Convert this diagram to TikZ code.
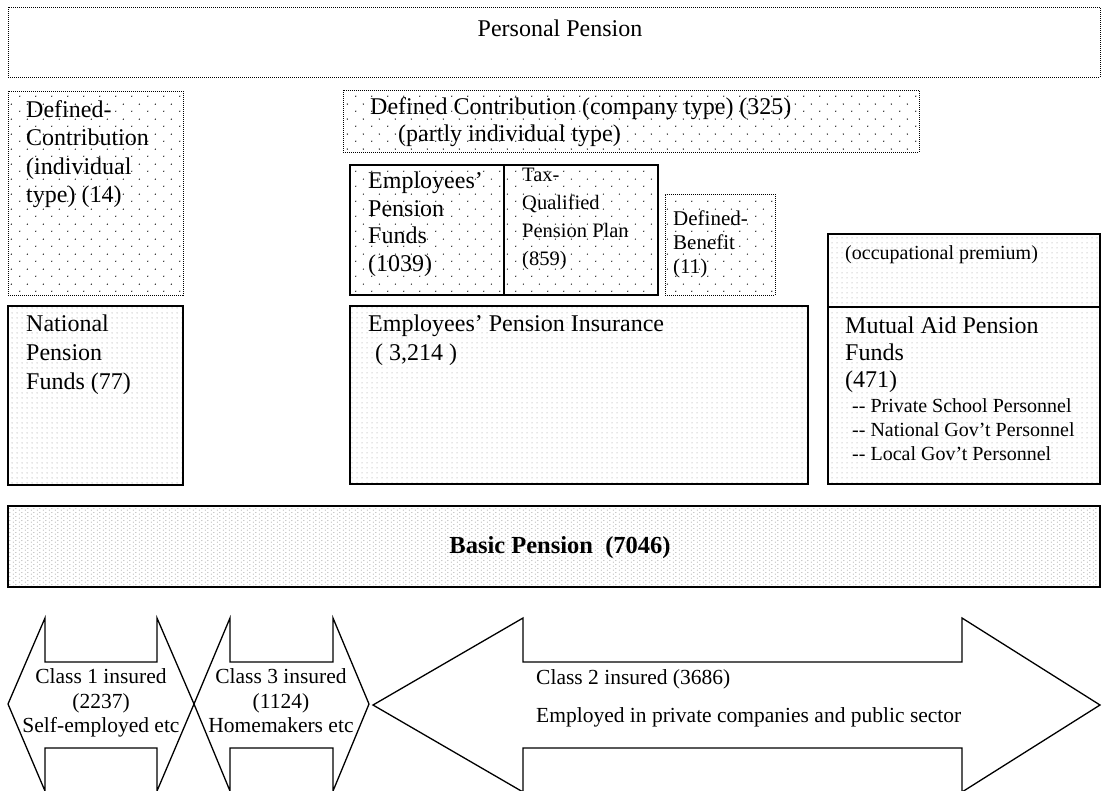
\documentclass[tikz,border=0pt]{standalone}
\usepackage{fontspec}
\setmainfont{Liberation Serif}
\usetikzlibrary{patterns}
\pgfdeclarepatternformonly{sparsedots}{\pgfpointorigin}{\pgfqpoint{16pt}{15pt}}{\pgfqpoint{16pt}{15pt}}{%
  \pgfpathcircle{\pgfqpoint{4pt}{4pt}}{0.75pt}%
  \pgfpathcircle{\pgfqpoint{12pt}{11.5pt}}{0.75pt}%
  \pgfusepath{fill}}
\pgfdeclarepatternformonly{finedots}{\pgfpointorigin}{\pgfqpoint{5pt}{5pt}}{\pgfqpoint{5pt}{5pt}}{%
  \pgfpathcircle{\pgfqpoint{2.5pt}{2.5pt}}{0.6pt}%
  \pgfusepath{fill}}
\pgfdeclarepatternformonly{densedots}{\pgfpointorigin}{\pgfqpoint{6pt}{4pt}}{\pgfqpoint{6pt}{4pt}}{%
  \pgfpathcircle{\pgfqpoint{1.5pt}{1pt}}{0.6pt}%
  \pgfpathcircle{\pgfqpoint{4.5pt}{3pt}}{0.6pt}%
  \pgfusepath{fill}}
\tikzset{
  pbox/.style={anchor=north west, inner sep=0pt, outer sep=0pt},
  dotborder/.style={draw, dash pattern=on 1pt off 1pt, line width=0.9pt},
  solidb/.style={draw, line width=1.6pt},
  thickb/.style={draw, line width=2pt},
  spdots/.style={pattern=sparsedots, pattern color=black},
  fdots/.style={pattern=finedots, pattern color=gray!85},
  ddots/.style={pattern=densedots, pattern color=gray!85},
  txt/.style={anchor=north west, inner sep=0pt, align=left, font=\fontsize{24}{28.5}\selectfont},
  smalltxt/.style={anchor=north west, inner sep=0pt, align=left, font=\fontsize{20}{24}\selectfont},
  classtxt/.style={anchor=north, inner sep=0pt, align=center, font=\fontsize{21.5}{24.5}\selectfont},
  arrowline/.style={draw, line width=1.3pt, line join=miter, fill=white},
}
\begin{document}
\begin{tikzpicture}[x=1pt, y=-1pt]
\useasboundingbox (0,0) rectangle (1102,790);

% Personal pension
\node[pbox, dotborder, minimum width=1092pt, minimum height=70pt] (pp) at (8,7) {};
\node[anchor=base, inner sep=0pt, font=\fontsize{24}{28}\selectfont] (ppt) at (560,36) {Personal Pension};

% Defined contribution (individual)
\node[pbox, dotborder, spdots, minimum width=175pt, minimum height=204pt] (dci) at (8,91) {};
\node[txt] (dcit) at (26,100) {Defined-\\Contribution\\(individual\\type) (14)};

% Defined contribution (company)
\node[pbox, dotborder, spdots, minimum width=576pt, minimum height=62pt] (dcc) at (343,90) {};
\node[txt, font=\fontsize{24}{27}\selectfont] (dcct) at (370,97) {Defined Contribution (company type) (325)\\\hspace*{28pt}(partly individual type)};

% Employees' pension funds
\node[pbox, thickb, spdots, minimum width=154pt, minimum height=130pt] (epf) at (350,165) {};
\node[txt, font=\fontsize{24}{27.5}\selectfont] (epft) at (368,172) {Employees’\\Pension\\Funds\\(1039)};

% Tax-qualified
\node[pbox, thickb, spdots, minimum width=154pt, minimum height=130pt] (tax) at (504,165) {};
\node[smalltxt, font=\fontsize{20.5}{28}\selectfont] (taxt) at (522,168) {Tax-\\Qualified\\Pension Plan\\(859)};

% Defined benefit
\node[pbox, dotborder, spdots, minimum width=110pt, minimum height=101pt] (db) at (665,194) {};
\node[smalltxt, font=\fontsize{21}{24}\selectfont] (dbt) at (673,211) {Defined-\\Benefit\\(11)};

% Occupational premium
\node[pbox, solidb, fdots, minimum width=272pt, minimum height=73pt] (occ) at (828,234) {};
\node[smalltxt] (occt) at (845,245) {(occupational premium)};

% Mutual aid
\node[pbox, solidb, fdots, minimum width=272pt, minimum height=177pt] (mut) at (828,307) {};
\node[txt, font=\fontsize{24}{27}\selectfont] (mutt) at (845,316.5) {Mutual Aid Pension\\Funds\\(471)};
\node[smalltxt] (mutsub) at (852,398) {-{}- Private School Personnel\\-{}- National Gov’t Personnel\\-{}- Local Gov’t Personnel};

% National pension funds
\node[pbox, solidb, fdots, minimum width=175pt, minimum height=179pt] (nat) at (8,306) {};
\node[txt, font=\fontsize{24}{29}\selectfont] (natt) at (26,314.5) {National\\Pension\\Funds (77)};

% Employees' pension insurance
\node[pbox, solidb, fdots, minimum width=458pt, minimum height=178pt] (epi) at (350,306) {};
\node[txt, font=\fontsize{24}{29.5}\selectfont] (epit) at (368,314.5) {Employees’ Pension Insurance\\\hspace*{7pt}( 3,214 )};

% Basic pension
\node[pbox, solidb, ddots, minimum width=1092pt, minimum height=81pt] (basic) at (8,506) {};
\node[anchor=base, inner sep=0pt, font=\fontsize{24.5}{28}\selectfont\bfseries] (basict) at (560,553) {Basic Pension\ \ (7046)};

% Class arrows
\draw[arrowline] (8,704) -- (45,618) -- (45,662) -- (157,662) -- (157,618) -- (194,704)
  -- (157,791) -- (157,748) -- (45,748) -- (45,791) -- cycle;
\draw[arrowline] (194,704) -- (230,618) -- (230,662) -- (333,662) -- (333,618) -- (369,704)
  -- (333,791) -- (333,748) -- (230,748) -- (230,791) -- cycle;
\draw[arrowline] (373,705) -- (523,618) -- (523,662) -- (962,662) -- (962,618) -- (1100,705)
  -- (962,792) -- (962,748) -- (523,748) -- (523,792) -- cycle;

\node[classtxt] (c1) at (101,668.5) {Class 1 insured\\(2237)\\Self-employed etc};
\node[classtxt] (c3) at (281,668.5) {Class 3 insured\\(1124)\\Homemakers etc};
\node[anchor=north west, inner sep=0pt, align=left, font=\fontsize{21.5}{38}\selectfont] (c2) at (536,669.5)
  {Class 2 insured (3686)\\Employed in private companies and public sector};
\end{tikzpicture}
\end{document}
